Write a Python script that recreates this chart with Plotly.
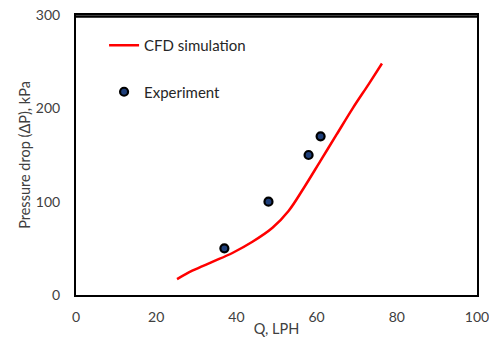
import plotly.graph_objects as go

# CFD simulation curve
cfd_q = [25.2, 29, 34, 39, 44, 49, 53, 57, 61, 65, 69, 73, 76.3]
cfd_dp = [17, 26, 35.5, 45, 57, 72, 90, 116, 144, 172, 200, 226, 248]

# Experiment points
exp_q = [37, 48, 58, 61]
exp_dp = [50, 100, 150, 170]

x_ticks = [0, 20, 40, 60, 80, 100]
y_ticks = [0, 100, 200, 300]

font_family = "Lato, 'Open Sans', sans-serif"

fig = go.Figure()
fig.add_trace(go.Scatter(
    x=cfd_q, y=cfd_dp, mode="lines", name="CFD simulation",
    line=dict(color="#ff0000", width=2.5, shape="spline", smoothing=1),
    legendgroup="a",
))
fig.add_trace(go.Scatter(
    x=exp_q, y=exp_dp, mode="markers", name="Experiment",
    marker=dict(color="#1f3f7a", size=8, line=dict(color="black", width=2.2)),
    legendgroup="b",
))

# top edge of the plot frame, drawn just inside the plot area
fig.add_shape(type="line", xref="x", yref="y domain",
              x0=x_ticks[0], x1=x_ticks[-1], y0=0.995, y1=0.995,
              line=dict(color="black", width=2.5), layer="above")

# page body adds an 8px offset, so the figure is 8px smaller and margins shifted
fig.update_layout(
    width=489, height=329,
    margin=dict(l=68, r=20, t=7, b=42, autoexpand=False),
    paper_bgcolor="white", plot_bgcolor="white",
    font=dict(family=font_family, size=14, color="#404040"),
    showlegend=True,
    legend=dict(
        x=0.07, y=0.95, xanchor="left", yanchor="top",
        bgcolor="rgba(0,0,0,0)", tracegroupgap=24,
        traceorder="grouped",
        font=dict(family=font_family, size=15, color="#262626"),
        itemwidth=30,
    ),
    xaxis=dict(
        range=[0, 100], tickvals=x_ticks, showgrid=False, zeroline=False,
        showline=True, linecolor="black", linewidth=2, mirror=True,
        automargin=False, ticklabeloverflow="allow",
        ticks="", ticklabelstandoff=8,
        title=dict(text="Q, LPH", standoff=5,
                   font=dict(size=14.5, color="#404040")),
    ),
    yaxis=dict(
        range=[0, 300], tickvals=y_ticks, showgrid=False, zeroline=False,
        showline=True, linecolor="black", linewidth=2, mirror=True,
        automargin=False, ticklabeloverflow="allow",
        ticks="", ticklabelstandoff=11,
        title=dict(text="Pressure drop (ΔP), kPa", standoff=2,
                   font=dict(size=14.5, color="#404040")),
    ),
)

fig.write_html("out.html")
